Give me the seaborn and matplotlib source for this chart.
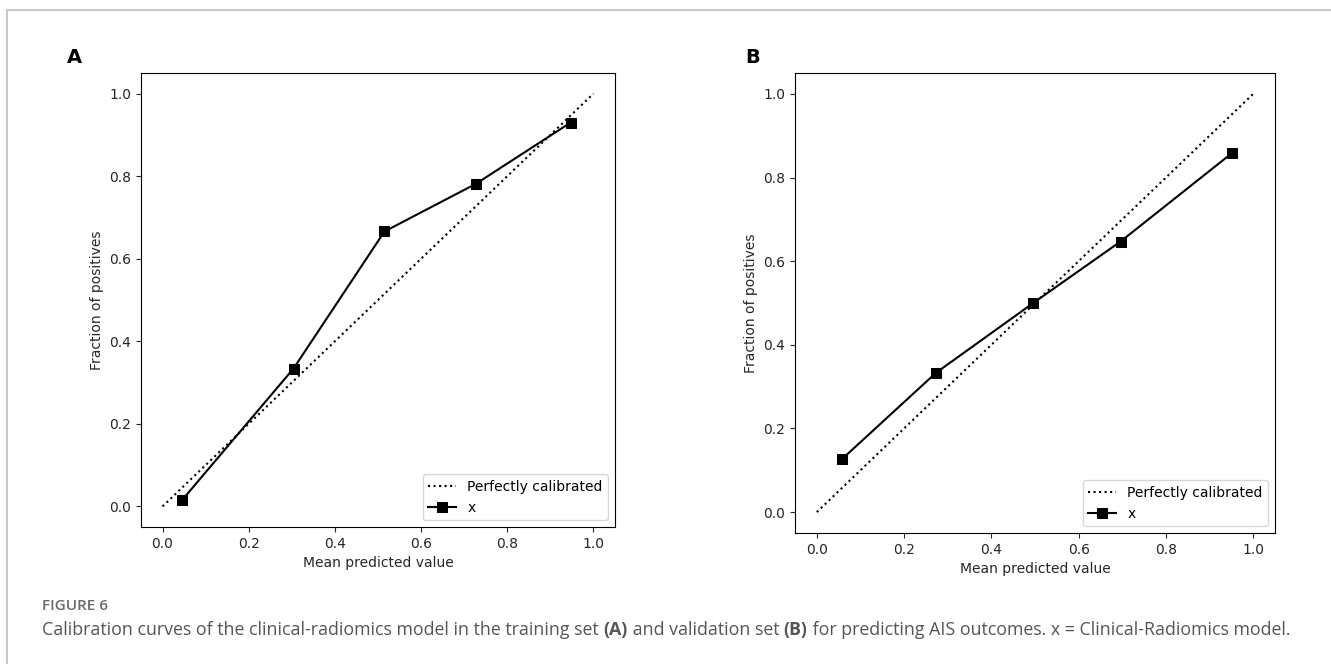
import matplotlib
matplotlib.use("Agg")
import matplotlib.pyplot as plt
import seaborn as sns
import numpy as np
import pandas as pd
from matplotlib.patches import Rectangle

# Data
diag = [0.0, 1.0]
a_pred = [0.046, 0.304, 0.515, 0.728, 0.947]
a_frac = [0.016, 0.334, 0.666, 0.782, 0.930]
b_pred = [0.057, 0.273, 0.496, 0.696, 0.952]
b_frac = [0.126, 0.333, 0.500, 0.647, 0.859]
ticks = [0.0, 0.2, 0.4, 0.6, 0.8, 1.0]
tick_labels = ["0.0", "0.2", "0.4", "0.6", "0.8", "1.0"]
panel_labels = ["A", "B"]
series_name = "x"
diag_name = "Perfectly calibrated"
fig_label = "FIGURE 6"
caption_parts = [
    ("Calibration curves of the clinical-radiomics model in the training set ", "normal"),
    ("(A)", "bold"),
    (" and validation set ", "normal"),
    ("(B)", "bold"),
    (" for predicting AIS outcomes. x = Clinical-Radiomics model.", "normal"),
]

plt.rcParams['font.family'] = ['DejaVu Sans']
W, H = 1331, 664
fig = plt.figure(figsize=(W / 100, H / 100), dpi=100)

# outer light border
fig.patches.append(Rectangle((7 / W, -0.1), 1.2, (1 - 10 / H) + 0.1,
                             transform=fig.transFigure, fill=False,
                             edgecolor='#c8c8c8', linewidth=1.5))

def box(l, r, t, b):
    return [l / W, 1 - b / H, (r - l) / W, (b - t) / H]

axA = fig.add_axes(box(141, 615, 73, 527))
axB = fig.add_axes(box(795, 1275, 73, 533))

for ax, xp, yf in [(axA, a_pred, a_frac), (axB, b_pred, b_frac)]:
    sns.lineplot(x=diag, y=diag, ax=ax, color='k', linestyle=':',
                 linewidth=1.5, label=diag_name)
    sns.lineplot(x=xp, y=yf, ax=ax, color='k', marker='s', markersize=7,
                 markeredgecolor='k', linewidth=1.5, label=series_name)
    ax.set_xlim(-0.05, 1.05)
    ax.set_ylim(-0.05, 1.05)
    ax.set_xticks(ticks)
    ax.set_xticklabels(tick_labels)
    ax.set_yticks(ticks)
    ax.set_yticklabels(tick_labels)
    ax.tick_params(labelsize=10, colors='#262626', length=3.5, width=0.8)
    ax.set_xlabel("Mean predicted value", fontsize=10, color='#262626')
    ax.set_ylabel("Fraction of positives", fontsize=10, color='#262626')
    for s in ax.spines.values():
        s.set_linewidth(0.8)
    ax.legend(loc='lower right', fontsize=10, frameon=True)

fig.text(74.5 / W, 1 - 57.5 / H, panel_labels[0], fontsize=14, fontweight='bold',
         ha='center', va='center')
fig.text(753 / W, 1 - 57.5 / H, panel_labels[1], fontsize=14, fontweight='bold',
         ha='center', va='center')

fig.text(42 / W, 1 - 606 / H, fig_label, fontsize=11, color='#6a6a6a',
         family='Open Sans', fontweight='semibold', fontstretch='condensed',
         ha='left', va='center')

# caption with bold panel references, laid out piece by piece
renderer = fig.canvas.get_renderer()
cap_size = 12.8
x = 42.0
for txt, wt in caption_parts:
    t = fig.text(x / W, 1 - 630 / H, txt, fontsize=cap_size, color='#555555',
                 family='Open Sans', fontweight=wt, ha='left', va='center')
    probe = fig.text(0, 0, "|" + txt + "|", fontsize=cap_size, family='Open Sans',
                     fontweight=wt)
    probe2 = fig.text(0, 0, "||", fontsize=cap_size, family='Open Sans', fontweight=wt)
    w = probe.get_window_extent(renderer).width - probe2.get_window_extent(renderer).width
    probe.remove()
    probe2.remove()
    x += w

fig.savefig("out.png", dpi=100)
